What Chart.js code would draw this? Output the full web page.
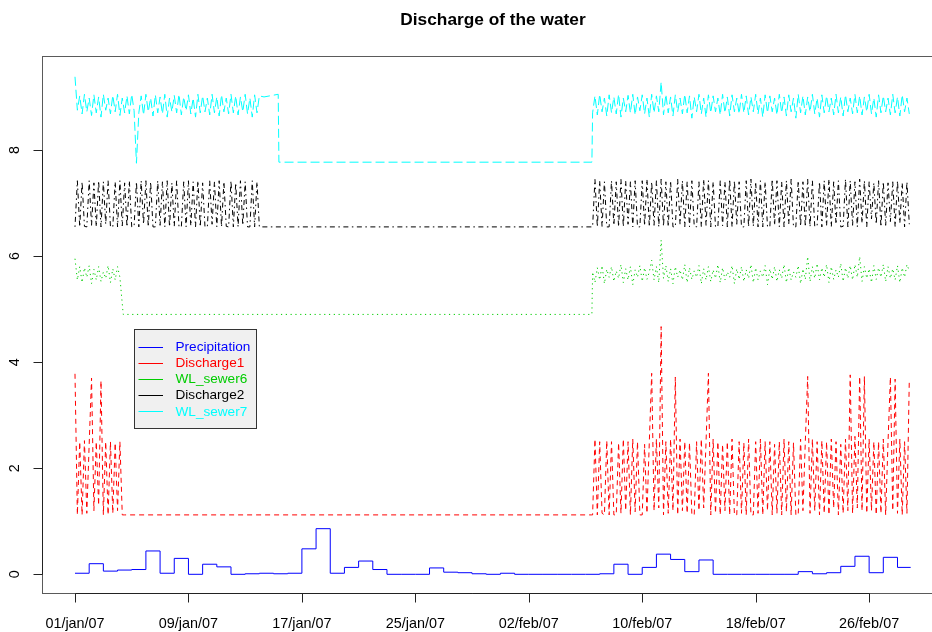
<!DOCTYPE html>
<html><head><meta charset="utf-8">
<script src="https://cdn.jsdelivr.net/npm/chart.js@4.4.0/dist/chart.umd.min.js"></script>
<style>html,body{margin:0;padding:0;background:#fff;overflow:hidden;width:932px;height:632px}canvas{display:block}</style>
</head><body>
<canvas id="c" width="960" height="632"></canvas>
<script>
const chartTitle = 'Discharge of the water';
const seriesNames = ['Precipitation', 'Discharge1', 'WL_sewer6', 'Discharge2', 'WL_sewer7'];
const seriesColors = ['#0000ff', '#ff0000', '#00cd00', '#000000', '#00ffff'];
const xTickDays = [0, 8, 16, 24, 32, 40, 48, 56];
const xTickLabels = ['01/jan/07', '09/jan/07', '17/jan/07', '25/jan/07', '02/feb/07', '10/feb/07', '18/feb/07', '26/feb/07'];
const yTicks = [0, 2, 4, 6, 8];

// daily precipitation from 01/jan/07 to 28/feb/07
const precipitation = [
  0.02, 0.20, 0.06, 0.08, 0.09, 0.44, 0.02, 0.30, 0.00, 0.19,
  0.14, 0.00, 0.01, 0.02, 0.01, 0.02, 0.48, 0.86, 0.02, 0.13,
  0.25, 0.09, 0.00, 0.00, 0.00, 0.12, 0.04, 0.03, 0.01, 0.00, 0.02,
  0.00, 0.00, 0.00, 0.00, 0.00, 0.00, 0.01, 0.19, 0.00, 0.13,
  0.38, 0.28, 0.05, 0.27, 0.00, 0.00, 0.00, 0.00, 0.00, 0.00,
  0.05, 0.01, 0.03, 0.15, 0.34, 0.03, 0.32, 0.13
];
const precipEndDay = 58.93;

// 4-hourly readings: a January block (from day 0) and a February block (from day 36.5)
const sampleStep = 1 / 6;
const janStartDay = 0;
const febStartDay = 36.5;

const discharge1Jan = [3.78, 1.12, 2.50, 1.12, 2.52, 1.15, 2.45, 3.70, 1.20, 2.50, 1.30, 3.65, 1.12, 2.50, 1.12, 2.50, 1.15, 2.48, 1.20, 2.50, 1.12];
const discharge1GapDays = [3.5, 36.45];
const discharge1GapValues = [1.12, 1.12];
const discharge1Feb = [
  1.12, 2.55, 1.12, 2.50, 1.15, 1.12, 2.52, 1.12, 2.50, 1.12,
  1.12, 2.48, 1.15, 2.55, 1.20, 2.50, 1.12, 2.55, 1.18, 2.50,
  1.12, 1.12, 2.45, 1.15, 2.50, 3.79, 1.20, 2.55, 1.25, 4.67,
  1.12, 2.50, 1.15, 2.55, 1.20, 3.72, 1.12, 2.55, 1.20, 2.50,
  1.15, 2.48, 1.12, 1.12, 2.50, 1.20, 2.55, 1.25, 2.50, 3.79,
  1.12, 2.55, 1.15, 2.50, 1.12, 2.45, 1.20, 2.50, 1.12, 2.55,
  1.12, 1.12, 2.50, 1.15, 2.48, 1.12, 2.55, 1.12, 1.12, 2.50,
  1.15, 2.55, 1.12, 2.50, 1.20, 2.50, 1.12, 2.45, 1.15, 2.50,
  1.12, 2.55, 1.18, 2.50, 1.12, 2.48, 1.12, 1.12, 2.55, 1.20,
  2.50, 3.73, 1.15, 2.55, 1.20, 2.50, 1.12, 2.52, 1.15, 2.50,
  1.12, 2.55, 1.25, 2.50, 1.12, 2.45, 1.15, 2.55, 1.20, 3.76,
  1.15, 2.60, 1.25, 3.73, 1.20, 3.73, 1.15, 2.55, 1.20, 2.50,
  1.12, 2.50, 1.15, 2.55, 1.12, 2.50, 3.72, 1.20, 3.68, 1.15,
  2.55, 1.12, 2.50, 1.15, 3.68
];

const wlSewer6Jan = [5.95, 5.55, 5.80, 5.50, 5.78, 5.60, 5.82, 5.48, 5.75, 5.55, 5.80, 5.52, 5.70, 5.58, 5.82, 5.50, 5.76, 5.55, 5.80, 5.60];
const wlSewer6GapDays = [3.4, 36.45];
const wlSewer6GapValues = [4.9, 4.9];
const wlSewer6Feb = [
  5.70, 5.50, 5.78, 5.55, 5.82, 5.48, 5.75, 5.60, 5.80, 5.52,
  5.72, 5.58, 5.84, 5.50, 5.76, 5.55, 5.80, 5.46, 5.74, 5.60,
  5.82, 5.52, 5.78, 5.56, 5.70, 5.92, 5.55, 5.80, 5.50, 6.30,
  5.58, 5.82, 5.52, 5.76, 5.48, 5.80, 5.60, 5.74, 5.55, 5.84,
  5.50, 5.78, 5.56, 5.72, 5.60, 5.82, 5.48, 5.76, 5.55, 5.80,
  5.52, 5.74, 5.58, 5.84, 5.50, 5.78, 5.55, 5.70, 5.60, 5.82,
  5.48, 5.76, 5.56, 5.80, 5.52, 5.74, 5.58, 5.84, 5.50, 5.78,
  5.55, 5.72, 5.60, 5.82, 5.46, 5.76, 5.56, 5.80, 5.52, 5.74,
  5.58, 5.84, 5.50, 5.78, 5.55, 5.70, 5.60, 5.82, 5.48, 5.76,
  5.56, 5.99, 5.52, 5.80, 5.58, 5.86, 5.55, 5.78, 5.60, 5.84,
  5.50, 5.80, 5.56, 5.74, 5.60, 5.86, 5.52, 5.78, 5.58, 5.82,
  5.55, 5.84, 5.60, 5.99, 5.52, 5.80, 5.58, 5.76, 5.50, 5.82,
  5.56, 5.78, 5.60, 5.84, 5.52, 5.80, 5.58, 5.76, 5.55, 5.82,
  5.50, 5.78, 5.60, 5.84, 5.72
];

const discharge2Jan = [
  6.55, 7.42, 6.55, 7.40, 6.56, 6.55, 7.42, 6.58, 7.38, 6.55,
  7.42, 6.55, 7.40, 6.60, 7.42, 6.55, 6.55, 7.40, 6.55, 7.42,
  6.57, 7.38, 6.55, 7.42, 6.55, 6.56, 7.40, 6.55, 7.42, 6.60,
  7.42, 6.55, 7.40, 6.55, 6.55, 7.42, 6.58, 7.40, 6.55, 7.42,
  6.55, 7.38, 6.56, 7.42, 6.55, 6.55, 7.40, 6.55, 7.42, 6.57,
  7.40, 6.55, 7.42, 6.55, 7.38, 6.55, 6.55, 7.42, 6.60, 7.40,
  6.55, 7.42, 6.55, 7.40, 6.56, 6.55, 7.42, 6.55, 7.38, 6.55,
  7.42, 6.58, 7.40, 6.55, 6.55, 7.42, 6.55, 7.40, 6.55
];
const discharge2GapDays = [13.17, 36.45];
const discharge2GapValues = [6.55, 6.55];
const discharge2Feb = [
  6.55, 7.45, 6.55, 7.42, 6.56, 7.40, 6.55, 6.55, 7.42, 6.58,
  7.40, 6.55, 7.45, 6.55, 7.42, 6.60, 7.40, 6.55, 7.42, 6.55,
  6.55, 7.42, 6.57, 7.45, 6.55, 7.40, 6.58, 7.42, 6.55, 7.45,
  6.56, 7.40, 6.55, 7.42, 6.55, 6.55, 7.45, 6.60, 7.42, 6.55,
  7.40, 6.55, 7.42, 6.56, 6.55, 7.40, 6.55, 7.45, 6.58, 7.42,
  6.55, 7.40, 6.55, 6.55, 7.42, 6.57, 7.40, 6.55, 7.45, 6.55,
  7.42, 6.60, 7.40, 6.55, 6.55, 7.42, 6.55, 7.45, 6.56, 7.40,
  6.55, 7.42, 6.55, 7.40, 6.55, 6.55, 7.45, 6.58, 7.42, 6.55,
  7.40, 6.55, 7.42, 6.60, 7.45, 6.55, 6.55, 7.42, 6.56, 7.40,
  6.55, 7.45, 6.55, 7.42, 6.55, 6.58, 7.40, 6.55, 7.42, 6.57,
  7.45, 6.55, 7.40, 6.60, 7.42, 6.55, 6.56, 7.45, 6.55, 7.42,
  6.58, 7.40, 6.55, 7.45, 6.62, 7.42, 6.55, 7.40, 6.70, 7.38,
  6.60, 7.42, 6.55, 7.40, 6.58, 7.38, 6.65, 7.40, 6.55, 7.42,
  6.62, 7.38, 6.55, 7.40, 6.60
];

const wlSewer7Jan = [
  9.38, 8.75, 9.02, 8.68, 9.05, 8.72, 8.98, 8.65, 9.04, 8.70,
  9.00, 8.62, 9.05, 8.75, 8.98, 8.68, 9.03, 8.72, 9.05, 8.65,
  8.98, 8.70, 9.02, 8.68, 9.05, 8.74, 7.75, 8.70, 9.02, 8.66,
  9.05, 8.72, 8.98, 8.64, 9.04, 8.70, 9.00, 8.68, 9.05, 8.62,
  8.98, 8.72, 9.03, 8.70, 9.05, 8.66, 9.00, 8.74, 9.04, 8.68,
  8.98, 8.62, 9.05, 8.70, 9.02, 8.72, 8.98, 8.66, 9.05, 8.70,
  9.00, 8.64, 9.04, 8.72, 8.98, 8.68, 9.05, 8.70, 9.02, 8.66,
  9.00, 8.72, 9.05, 8.68, 8.98, 8.62, 9.04, 8.70, 9.02
];
const wlSewer7GapDays = [13.33, 14.33, 14.38, 36.45];
const wlSewer7GapValues = [9.00, 9.05, 7.77, 7.77];
const wlSewer7Feb = [
  8.70, 9.02, 8.66, 9.05, 8.72, 8.98, 8.64, 9.04, 8.70, 9.00,
  8.68, 9.05, 8.62, 8.98, 8.72, 9.03, 8.70, 9.05, 8.66, 9.00,
  8.74, 9.04, 8.68, 8.98, 8.62, 9.05, 8.70, 9.02, 8.72, 9.28,
  8.66, 9.05, 8.70, 9.00, 8.64, 9.04, 8.72, 8.98, 8.68, 9.05,
  8.70, 9.02, 8.60, 9.00, 8.72, 9.05, 8.68, 8.98, 8.62, 9.04,
  8.70, 9.02, 8.72, 8.98, 8.66, 9.05, 8.70, 9.00, 8.64, 9.04,
  8.72, 8.98, 8.68, 9.05, 8.70, 9.02, 8.66, 9.00, 8.72, 9.05,
  8.68, 8.98, 8.62, 9.04, 8.70, 9.02, 8.72, 8.98, 8.66, 9.05,
  8.70, 9.00, 8.64, 9.04, 8.72, 8.98, 8.60, 9.05, 8.70, 9.02,
  8.66, 9.00, 8.72, 9.05, 8.68, 8.98, 8.62, 9.04, 8.70, 9.02,
  8.72, 8.98, 8.66, 9.05, 8.70, 9.00, 8.64, 9.04, 8.72, 8.98,
  8.68, 9.05, 8.70, 9.02, 8.66, 9.00, 8.72, 9.05, 8.68, 8.98,
  8.62, 9.04, 8.70, 9.02, 8.72, 8.98, 8.66, 9.05, 8.70, 9.00,
  8.64, 9.04, 8.72, 8.98, 8.68
];

function buildSeries(jan, gapDays, gapValues, feb) {
  const pts = [];
  jan.forEach((v, i) => pts.push({ x: janStartDay + i * sampleStep, y: v }));
  gapDays.forEach((d, i) => pts.push({ x: d, y: gapValues[i] }));
  feb.forEach((v, i) => pts.push({ x: febStartDay + i * sampleStep, y: v }));
  return pts;
}
const precipPoints = precipitation.map((v, i) => ({ x: i, y: v }));
precipPoints.push({ x: precipEndDay, y: precipitation[precipitation.length - 1] });

const FONT = '"Liberation Sans", Arial, Helvetica, sans-serif';

const rPlot = {
  id: 'rPlot',
  afterDraw(chart) {
    const { ctx, chartArea: a, scales: { x, y } } = chart;
    ctx.save();
    // plot box
    ctx.strokeStyle = '#5a5a5a';
    ctx.lineWidth = 1;
    const L = Math.round(a.left) + 0.5, T = Math.round(a.top) + 0.5, B = Math.round(a.bottom) + 0.5, R = Math.round(a.right) + 0.5;
    ctx.strokeRect(L, T, R - L, B - T);
    // axes
    ctx.strokeStyle = '#222';
    ctx.beginPath();
    const x0 = Math.round(x.getPixelForValue(xTickDays[0])) + 0.5;
    const x1 = Math.round(x.getPixelForValue(xTickDays[xTickDays.length - 1])) + 0.5;
    ctx.moveTo(x0, B); ctx.lineTo(x1, B);
    xTickDays.forEach(d => { const px = Math.round(x.getPixelForValue(d)) + 0.5; ctx.moveTo(px, B); ctx.lineTo(px, B + 9); });
    const y0 = Math.round(y.getPixelForValue(yTicks[0])) + 0.5;
    const y1 = Math.round(y.getPixelForValue(yTicks[yTicks.length - 1])) + 0.5;
    ctx.moveTo(L, y0); ctx.lineTo(L, y1);
    yTicks.forEach(v => { const py = Math.round(y.getPixelForValue(v)) + 0.5; ctx.moveTo(L, py); ctx.lineTo(L - 9, py); });
    ctx.stroke();
    // tick labels
    ctx.fillStyle = '#000';
    ctx.font = '14.4px ' + FONT;
    ctx.textAlign = 'center';
    ctx.textBaseline = 'alphabetic';
    xTickDays.forEach((d, i) => ctx.fillText(xTickLabels[i], x.getPixelForValue(d), 627.5));
    yTicks.forEach(v => {
      ctx.save();
      ctx.translate(18.5, y.getPixelForValue(v));
      ctx.rotate(-Math.PI / 2);
      ctx.fillText(String(v), 0, 0);
      ctx.restore();
    });
    // title
    ctx.font = 'bold 17.3px ' + FONT;
    ctx.fillText(chartTitle, (a.left + a.right) / 2, 24.5);
    // legend
    const lx = 134.5, ly = 329.5, lw = 122, lh = 99;
    ctx.fillStyle = '#f0f0f0';
    ctx.fillRect(lx, ly, lw, lh);
    ctx.strokeStyle = '#333';
    ctx.strokeRect(lx, ly, lw, lh);
    ctx.font = '13.6px ' + FONT;
    ctx.textAlign = 'left';
    ctx.textBaseline = 'middle';
    seriesNames.forEach((n, i) => {
      const cy = 346.5 + i * 16.2;
      ctx.strokeStyle = seriesColors[i];
      ctx.beginPath();
      ctx.moveTo(138.5, Math.round(cy) + 0.5); ctx.lineTo(163, Math.round(cy) + 0.5);
      ctx.stroke();
      ctx.fillStyle = seriesColors[i];
      ctx.fillText(n, 175.5, cy + 0.5);
    });
    ctx.restore();
  }
};

const common = { pointRadius: 0, borderWidth: 1, fill: false, tension: 0 };
new Chart(document.getElementById('c'), {
  type: 'line',
  data: {
    datasets: [
      { ...common, label: seriesNames[0], data: precipPoints, borderColor: seriesColors[0], stepped: true },
      { ...common, label: seriesNames[1], data: buildSeries(discharge1Jan, discharge1GapDays, discharge1GapValues, discharge1Feb), borderColor: seriesColors[1], borderDash: [5, 4] },
      { ...common, label: seriesNames[2], data: buildSeries(wlSewer6Jan, wlSewer6GapDays, wlSewer6GapValues, wlSewer6Feb), borderColor: seriesColors[2], borderDash: [1.2, 3.6] },
      { ...common, label: seriesNames[3], data: buildSeries(discharge2Jan, discharge2GapDays, discharge2GapValues, discharge2Feb), borderColor: seriesColors[3], borderDash: [1.5, 3.5, 5, 3.5] },
      { ...common, label: seriesNames[4], data: buildSeries(wlSewer7Jan, wlSewer7GapDays, wlSewer7GapValues, wlSewer7Feb), borderColor: seriesColors[4], borderDash: [9, 4] }
    ]
  },
  options: {
    responsive: false,
    animation: false,
    events: [],
    layout: { padding: { top: 56, left: 0, right: 16, bottom: 0 } },
    plugins: { legend: { display: false }, title: { display: false }, tooltip: { enabled: false } },
    scales: {
      x: {
        type: 'linear', min: -2.327, max: 61.28,
        grid: { display: false }, border: { display: false }, ticks: { display: false },
        afterFit(s) { s.height = 39; }
      },
      y: {
        type: 'linear', min: -0.3526, max: 9.772,
        grid: { display: false }, border: { display: false }, ticks: { display: false },
        afterFit(s) { s.width = 42; }
      }
    }
  },
  plugins: [rPlot]
});
</script>
</body></html>
